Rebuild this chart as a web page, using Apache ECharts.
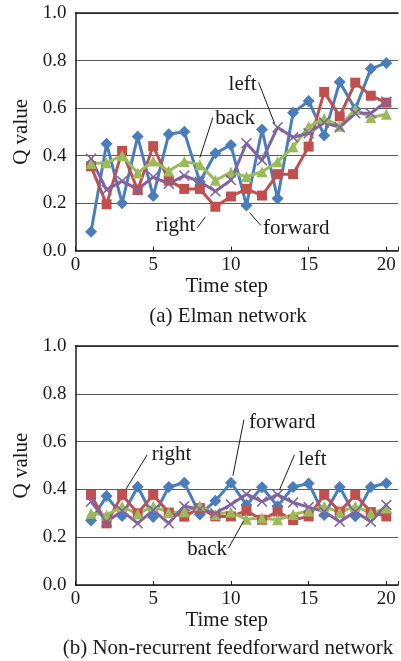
<!DOCTYPE html>
<html>
<head>
<meta charset="utf-8">
<script src="https://cdn.jsdelivr.net/npm/echarts@6/dist/echarts.min.js"></script>
<style>
html, body { margin: 0; padding: 0; background: #fff; }
#chart { width: 401px; height: 661px; }
</style>
</head>
<body>
<div id="chart"></div>
<script>
// Time steps and axis ticks
const steps = [1, 2, 3, 4, 5, 6, 7, 8, 9, 10, 11, 12, 13, 14, 15, 16, 17, 18, 19, 20];
const xTickValues = [0, 5, 10, 15, 20];
const yTickValues = [0.0, 0.2, 0.4, 0.6, 0.8, 1.0];
const actionNames = ['forward', 'right', 'back', 'left'];

// (a) Elman network: Q value per action
const elmanForward = [0.08, 0.45, 0.20, 0.48, 0.23, 0.49, 0.50, 0.29, 0.41, 0.445, 0.19, 0.51, 0.22, 0.58, 0.63, 0.485, 0.71, 0.595, 0.765, 0.79];
const elmanRight   = [0.355, 0.195, 0.42, 0.255, 0.44, 0.295, 0.26, 0.26, 0.185, 0.228, 0.26, 0.232, 0.322, 0.322, 0.438, 0.668, 0.565, 0.707, 0.652, 0.623];
const elmanBack    = [0.367, 0.37, 0.40, 0.327, 0.377, 0.335, 0.375, 0.362, 0.296, 0.33, 0.311, 0.332, 0.374, 0.437, 0.522, 0.557, 0.524, 0.595, 0.56, 0.574];
const elmanLeft    = [0.387, 0.256, 0.293, 0.258, 0.31, 0.282, 0.316, 0.29, 0.25, 0.297, 0.452, 0.38, 0.519, 0.477, 0.494, 0.539, 0.519, 0.578, 0.578, 0.627];

// (b) Non-recurrent feedforward network: Q value per action
const ffForward = [0.27, 0.372, 0.289, 0.411, 0.285, 0.41, 0.428, 0.295, 0.352, 0.428, 0.335, 0.409, 0.33, 0.41, 0.425, 0.293, 0.41, 0.288, 0.41, 0.426];
const ffRight   = [0.377, 0.258, 0.377, 0.30, 0.377, 0.303, 0.286, 0.322, 0.287, 0.287, 0.31, 0.273, 0.307, 0.272, 0.287, 0.377, 0.307, 0.377, 0.305, 0.287];
const ffBack    = [0.30, 0.293, 0.328, 0.297, 0.33, 0.303, 0.307, 0.332, 0.295, 0.305, 0.275, 0.28, 0.273, 0.295, 0.31, 0.33, 0.303, 0.33, 0.30, 0.322];
const ffLeft    = [0.349, 0.265, 0.31, 0.258, 0.313, 0.258, 0.33, 0.317, 0.30, 0.337, 0.38, 0.349, 0.378, 0.345, 0.326, 0.307, 0.265, 0.307, 0.265, 0.335];

const panelCaptions = ['(a) Elman network', '(b) Non-recurrent feedforward network'];
const xAxisTitle = 'Time step';
const yAxisTitle = 'Q value';

const panels = [
  { forward: elmanForward, right: elmanRight, back: elmanBack, left: elmanLeft },
  { forward: ffForward, right: ffRight, back: ffBack, left: ffLeft }
];

// Callouts: which point each action label points at
const calloutTargets = [
  { left: 13, back: 8, right: 9, forward: 11 },
  { forward: 10, right: 3, left: 13, back: 11 }
];

// ---- styling ----
const FONT = '"Liberation Serif", "Times New Roman", serif';
const INK = '#1a1a1a';
const actionColors = { forward: '#4a7ebb', right: '#c0504d', back: '#9bbb59', left: '#8064a2' };
const actionSymbols = {
  forward: 'diamond',
  right: 'rect',
  back: 'triangle',
  left: 'path://M0,1 L1,0 L5,4 L9,0 L10,1 L6,5 L10,9 L9,10 L5,6 L1,10 L0,9 L4,5 Z'
};
const actionSymbolSize = { forward: 12, right: 10, back: 11, left: 11 };

// Label/leader placement relative to the target point (pixels)
const calloutLayout = [
  {
    left:    { text: [-21, -43], align: 'right', from: [-19, -45], to: [-3, -4] },
    back:    { text: [15.5, -46], align: 'left', from: [13, -47], to: [0, -7] },
    right:   { text: [-20, 19], align: 'right', from: [-18, 21], to: [-10, 10] },
    forward: { text: [16.5, 23], align: 'left', from: [14.5, 20], to: [3, 7] }
  },
  {
    forward: { text: [18, -60], align: 'left', from: [13, -63], to: [2, -7] },
    right:   { text: [29.5, -40], align: 'left', from: [25, -40], to: [4, -6] },
    left:    { text: [21, -35], align: 'left', from: [17, -40], to: [2, -5] },
    back:    { text: [-19.5, 30], align: 'right', from: [-18, 29], to: [-3, 2] }
  }
];

const grids = [
  { left: 75.5, right: 0, top: 13, height: 237.7 },
  { left: 75.5, right: 0, top: 346, height: 239 }
];
const X_MAX = 20.75;

const xAxes = [];
const yAxes = [];
const series = [];

grids.forEach((g, gi) => {
  xAxes.push({
    type: 'value', gridIndex: gi, min: 0, max: X_MAX, interval: 5,
    axisLine: { show: true, lineStyle: { color: INK, width: 1.5 } },
    axisTick: { show: true, inside: true, length: 4, lineStyle: { color: INK, width: 1 } },
    axisLabel: {
      color: INK, fontFamily: FONT, fontSize: 19, margin: 5,
      formatter: v => (xTickValues.indexOf(v) >= 0 ? String(v) : '')
    },
    splitLine: { show: false },
    name: xAxisTitle, nameLocation: 'middle', nameGap: 17,
    nameTextStyle: { color: INK, fontFamily: FONT, fontSize: 21, padding: [0, 20, 0, 0] }
  });
  // top frame line
  xAxes.push({
    type: 'value', gridIndex: gi, position: 'top', min: 0, max: X_MAX,
    axisLine: { show: true, lineStyle: { color: INK, width: 1.5 } },
    axisTick: { show: false }, axisLabel: { show: false }, splitLine: { show: false }
  });
  yAxes.push({
    type: 'value', gridIndex: gi, min: yTickValues[0], max: yTickValues[yTickValues.length - 1], interval: 0.2,
    axisLine: { show: true, lineStyle: { color: INK, width: 1.5 } },
    axisTick: { show: false },
    axisLabel: { color: INK, fontFamily: FONT, fontSize: 19, margin: 9, formatter: v => v.toFixed(1) },
    splitLine: { show: true, lineStyle: { color: '#5a5a5a', width: 1 } },
    name: yAxisTitle, nameLocation: 'middle', nameGap: 34,
    nameTextStyle: { color: INK, fontFamily: FONT, fontSize: 21 }
  });

  actionNames.forEach(a => {
    series.push({
      name: a + gi, type: 'line', xAxisIndex: gi * 2, yAxisIndex: gi,
      data: steps.map((s, i) => [s, panels[gi][a][i]]),
      symbol: actionSymbols[a], symbolSize: actionSymbolSize[a], showAllSymbol: true,
      lineStyle: { color: actionColors[a], width: 3 },
      itemStyle: { color: actionColors[a], opacity: 1 },
      emphasis: { disabled: true },
      animation: false, clip: false
    });
  });
});

const chart = echarts.init(document.getElementById('chart'), null, { renderer: 'canvas' });
chart.setOption({
  animation: false,
  backgroundColor: '#fff',
  grid: grids,
  xAxis: xAxes,
  yAxis: yAxes,
  series: series
});

// Captions and callouts
const graphics = [];
const captionY = [316, 648];
panelCaptions.forEach((c, gi) => {
  graphics.push({
    type: 'text', x: 228, y: captionY[gi],
    style: { text: c, font: '21px ' + FONT, fill: INK, align: 'center', verticalAlign: 'middle', textAlign: 'center', textVerticalAlign: 'middle' }
  });
});

calloutTargets.forEach((targets, gi) => {
  Object.keys(targets).forEach(a => {
    const step = targets[a];
    const val = panels[gi][a][steps.indexOf(step)];
    const p = chart.convertToPixel({ gridIndex: gi }, [step, val]);
    const L = calloutLayout[gi][a];
    graphics.push({
      type: 'line',
      shape: { x1: p[0] + L.from[0], y1: p[1] + L.from[1], x2: p[0] + L.to[0], y2: p[1] + L.to[1] },
      style: { stroke: INK, lineWidth: 1 }, z: 100
    });
    graphics.push({
      type: 'text', x: p[0] + L.text[0], y: p[1] + L.text[1], z: 100,
      style: { text: a, font: '21px ' + FONT, fill: INK, align: L.align, verticalAlign: 'middle', textAlign: L.align, textVerticalAlign: 'middle' }
    });
  });
});

chart.setOption({ graphic: graphics });
</script>
</body>
</html>
